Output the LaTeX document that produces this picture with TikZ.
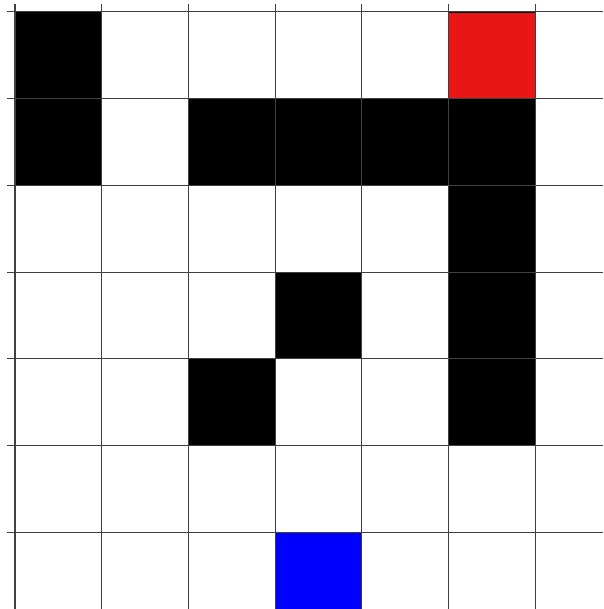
\documentclass[tikz,border=0pt]{standalone}
\usepackage{tikz}
\definecolor{goalred}{RGB}{232,22,22}
\definecolor{startblue}{RGB}{0,0,255}
\tikzset{
  wall/.style={fill=black},
  goal/.style={fill=goalred, draw=black, line width=0.4pt},
  start/.style={fill=startblue},
  gridline/.style={draw=black!75, line width=0.6pt},
}

\begin{document}
\begin{tikzpicture}[x=1.734cm, y=-1.734cm]
    \useasboundingbox (-0.173,-0.138) rectangle (6.782,6.886);
    % walls (column/row)
    \foreach \c/\r in {0/0, 0/1, 2/1, 3/1, 4/1, 5/1, 5/2, 3/3, 5/3, 2/4, 5/4}
      \fill[wall] (\c,\r) rectangle ++(1,1);
    \filldraw[goal] (5,0) rectangle ++(1,1);
    \fill[start] (3,6) rectangle ++(1,1);
    % grid
    \foreach \i in {0,...,6} {
      \draw[gridline] (\i,-0.092) -- (\i,6.886);
      \draw[gridline] (-0.092,\i) -- (6.782,\i);
    }
  \end{tikzpicture}
\end{document}
